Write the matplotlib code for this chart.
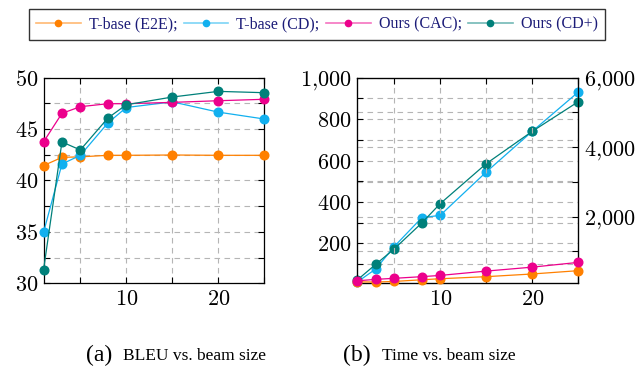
import numpy as np
import matplotlib
matplotlib.use("Agg")
import matplotlib.pyplot as plt
from matplotlib.lines import Line2D
from matplotlib.ticker import MultipleLocator, FuncFormatter
from matplotlib.colors import to_rgb

plt.rcParams['mathtext.fontset'] = 'cm'

# beam sizes
beam = [1, 3, 5, 8, 10, 15, 20, 25]

# (a) BLEU vs. beam size
bleu_e2e = [41.45, 42.25, 42.3, 42.45, 42.45, 42.48, 42.45, 42.45]
bleu_cd = [34.95, 41.6, 42.45, 45.6, 47.1, 47.65, 46.65, 45.98]
bleu_cac = [43.75, 46.53, 47.18, 47.47, 47.47, 47.6, 47.76, 47.9]
bleu_cdp = [31.3, 43.75, 42.97, 46.08, 47.37, 48.12, 48.67, 48.54]

# (b) Time vs. beam size (E2E / CAC on left axis, CD / CD+ on right axis)
time_e2e = [14, 13, 16, 24, 29, 39, 52, 68]
time_cac = [19, 26, 31, 39, 45, 66, 85, 108]
time_cd = [120, 494, 1137, 1971, 2038, 3285, 4456, 5588]
time_cdp = [178, 628, 1070, 1818, 2374, 3525, 4456, 5309]

names = ["T-base (E2E);", "T-base (CD);", "Ours (CAC);", "Ours (CD+)"]
colors = ["#ff8000", "#12b0ef", "#ec008c", "#00807a"]


def light(c, f=0.45):
    r = np.array(to_rgb(c))
    return tuple(r + (1 - r) * f)


def cm_fmt(v, pos):
    if v >= 1000:
        return r'$%d{,}%03d$' % (v // 1000, v % 1000)
    return r'$%d$' % v


def style_axis(ax):
    ax.grid(True, which='both', linestyle=(0, (5, 4)), color='#b5b5b5', linewidth=0.8)
    ax.set_axisbelow(True)
    ax.tick_params(which='both', direction='in', top=True, length=4, width=0.8, labelsize=16, pad=4)
    for s in ax.spines.values():
        s.set_linewidth(0.9)


def draw(ax, y, c):
    ax.plot(beam, y, color=c, linewidth=0.9, marker='o', markersize=6.2,
            markerfacecolor=c, markeredgecolor=c, clip_on=False, zorder=3)


fig = plt.figure(figsize=(6.43, 3.73), dpi=100)

# (a)
ax1 = fig.add_axes([0.0677, 0.2405, 0.3434, 0.5512])
for y, c in zip([bleu_e2e, bleu_cd, bleu_cac, bleu_cdp], colors):
    draw(ax1, y, c)
ax1.set_xlim(1, 25)
ax1.set_ylim(30, 50)
ax1.xaxis.set_major_locator(MultipleLocator(10))
ax1.xaxis.set_minor_locator(MultipleLocator(5))
ax1.yaxis.set_major_locator(MultipleLocator(5))
ax1.yaxis.set_minor_locator(MultipleLocator(2.5))
ax1.xaxis.set_major_formatter(FuncFormatter(cm_fmt))
ax1.yaxis.set_major_formatter(FuncFormatter(cm_fmt))
style_axis(ax1)
ax1.tick_params(which='both', right=True)

# (b)
ax2 = fig.add_axes([0.5557, 0.2405, 0.3437, 0.5512])
ax3 = ax2.twinx()
for y, c in zip([time_e2e, time_cac], [colors[0], colors[2]]):
    draw(ax2, y, c)
for y, c in zip([time_cd, time_cdp], [colors[1], colors[3]]):
    draw(ax3, y, c)
ax2.set_xlim(1, 25)
ax2.set_ylim(7, 1000)
ax3.set_ylim(82, 6000)
ax2.xaxis.set_major_locator(MultipleLocator(10))
ax2.xaxis.set_minor_locator(MultipleLocator(5))
ax2.yaxis.set_major_locator(MultipleLocator(200))
ax2.yaxis.set_minor_locator(MultipleLocator(100))
ax3.yaxis.set_major_locator(MultipleLocator(2000))
ax3.yaxis.set_minor_locator(MultipleLocator(1000))
for a in (ax2, ax3):
    a.xaxis.set_major_formatter(FuncFormatter(cm_fmt))
    a.yaxis.set_major_formatter(FuncFormatter(cm_fmt))
style_axis(ax2)
ax3.tick_params(which='both', direction='in', length=4, width=0.8, labelsize=16, pad=4)
ax3.set_axisbelow(True)
ax2.set_zorder(ax3.get_zorder() + 1)
ax2.patch.set_visible(False)
ax2.grid(False, axis='y', which='both')
ax3.grid(True, which='both', axis='y', linestyle=(0, (5, 4)), color='#b5b5b5', linewidth=0.8)
# left-axis grid drawn on the twin so it sits below all lines
for v in np.arange(100, 1000, 100):
    ax3.axhline(82 + (v - 7) / (1000 - 7) * (6000 - 82), color='#b5b5b5',
                linestyle=(0, (5, 4)), linewidth=0.8, zorder=0)

# legend
handles = [Line2D([], [], color=light(c), linewidth=1.2, marker='o', markersize=4.5,
                  markerfacecolor=c, markeredgecolor=c) for c in colors]
leg = fig.legend(handles, names, loc='center', bbox_to_anchor=(0.4927, 0.934), ncol=4,
                 frameon=True, fancybox=False, edgecolor='black', handlelength=2.8,
                 handletextpad=0.5, columnspacing=0.4, borderpad=0.45,
                 prop={'family': 'Liberation Serif', 'size': 11.5})
leg.get_frame().set_linewidth(1.0)
for t in leg.get_texts():
    t.set_color('#1c1c78')

# captions
fig.text(86 / 643, 0.046, "(a)", fontsize=17, family='Liberation Serif', va='center')
fig.text(123 / 643, 0.046, "BLEU vs. beam size", fontsize=12.5, family='Liberation Serif', va='center')
fig.text(343 / 643, 0.046, "(b)", fontsize=17, family='Liberation Serif', va='center')
fig.text(382 / 643, 0.046, "Time vs. beam size", fontsize=12.5, family='Liberation Serif', va='center')

fig.savefig("out.png", dpi=100)
